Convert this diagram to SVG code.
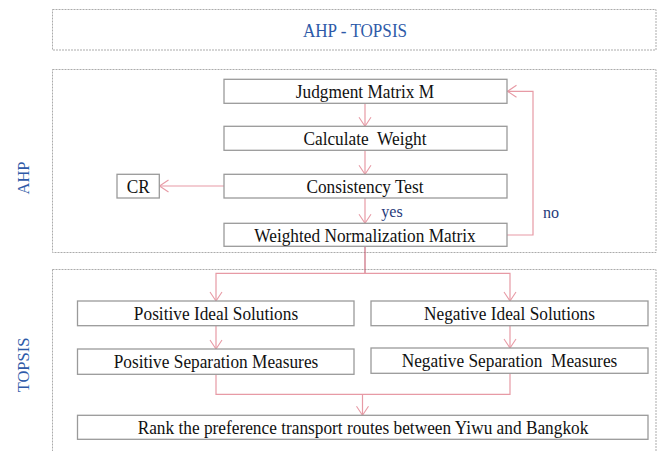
<svg xmlns="http://www.w3.org/2000/svg" width="661" height="451" viewBox="0 0 661 451">
<style>
.frame{fill:none;stroke:#ababab;stroke-width:1;stroke-dasharray:2 1}
.box{fill:#fff;stroke:#9a9a9a;stroke-width:1.3}
.t{font-family:"Liberation Serif","Times New Roman",serif;font-size:18.6px;fill:#111;text-anchor:middle}
.lab{font-family:"Liberation Serif","Times New Roman",serif;font-size:16.5px;fill:#2E5AA8;text-anchor:middle}
.ttl{font-family:"Liberation Serif","Times New Roman",serif;font-size:19px;fill:#2E5AA8;text-anchor:middle}
.yn{font-family:"Liberation Serif","Times New Roman",serif;font-size:17.5px;fill:#1F3A7A;text-anchor:middle}
.c{fill:none;stroke:#E79AA5;stroke-width:1.2}
.trunk{fill:none;stroke:#C96A7C;stroke-width:1.2}
</style>
<defs>
<marker id="arr" viewBox="-11 -7 13 14" refX="0" refY="0" markerWidth="13" markerHeight="14" orient="auto" markerUnits="userSpaceOnUse">
<path d="M-9,-6 L0,0 L-9,6" fill="none" stroke="#E79AA5" stroke-width="1.1"/>
</marker>
</defs>
<g id="frames">
<rect id="title-frame" class="frame" x="52.5" y="9.5" width="603.5" height="40.5"/>
<rect id="ahp-frame" class="frame" x="52.5" y="69.5" width="603.5" height="183"/>
<rect id="topsis-frame" class="frame" x="52.5" y="269.5" width="603.5" height="200"/>
</g>
<g id="title"><text class="ttl" transform="translate(355,37) scale(0.9,1)">AHP - TOPSIS</text></g>
<g id="ahp-label"><text class="lab" transform="translate(29,178) rotate(-90)">AHP</text></g>
<g id="topsis-label"><text class="lab" transform="translate(29,365) rotate(-90)">TOPSIS</text></g>
<g id="connectors">
<path class="c" d="M365,103.3 V126.3" marker-end="url(#arr)"/>
<path class="c" d="M365,150.3 V174.3" marker-end="url(#arr)"/>
<path class="c" d="M365,198 V223.3" marker-end="url(#arr)"/>
<path class="c" d="M224,186 H159.5" marker-end="url(#arr)"/>
<path class="c" d="M507,235 H533 V91.3 H507.5" marker-end="url(#arr)"/>
<path class="trunk" d="M365,246.3 V273.3"/>
<path class="c" d="M365,273.3 H216 V301" marker-end="url(#arr)"/>
<path class="c" d="M365,273.3 H510 V301" marker-end="url(#arr)"/>
<path class="c" d="M216,325.7 V349" marker-end="url(#arr)"/>
<path class="c" d="M510,325.7 V348" marker-end="url(#arr)"/>
<path class="c" d="M216,374.3 V394.3 H510 V373.3"/>
<path class="c" d="M362.5,394.3 V415.3" marker-end="url(#arr)"/>
<text class="yn" transform="translate(392,216.5) scale(0.92,1)">yes</text>
<text class="yn" transform="translate(551,217.5) scale(0.92,1)">no</text>
</g>
<g id="judgment"><rect class="box" x="224" y="79.3" width="283" height="24"/><text class="t" transform="translate(365,97.8) scale(0.93,1)">Judgment Matrix M</text></g>
<g id="weight"><rect class="box" x="224" y="126.3" width="283" height="24"/><text class="t" transform="translate(365,144.8) scale(0.93,1)" xml:space="preserve">Calculate  Weight</text></g>
<g id="consistency"><rect class="box" x="224" y="174.3" width="283" height="23.7"/><text class="t" transform="translate(365,192.5) scale(0.93,1)">Consistency Test</text></g>
<g id="cr"><rect class="box" x="117" y="174.3" width="42.3" height="23.7"/><text class="t" transform="translate(138.2,192.5) scale(0.93,1)">CR</text></g>
<g id="weighted"><rect class="box" x="224" y="223.3" width="283" height="23"/><text class="t" transform="translate(365,241.5) scale(0.93,1)">Weighted Normalization Matrix</text></g>
<g id="pos-ideal"><rect class="box" x="77.5" y="301" width="276.5" height="24.7"/><text class="t" transform="translate(216,319.8) scale(0.93,1)">Positive Ideal Solutions</text></g>
<g id="neg-ideal"><rect class="box" x="371" y="301" width="277" height="24.7"/><text class="t" transform="translate(509.5,319.8) scale(0.93,1)">Negative Ideal Solutions</text></g>
<g id="pos-sep"><rect class="box" x="77.5" y="349" width="276.5" height="25.3"/><text class="t" transform="translate(216,368) scale(0.93,1)">Positive Separation Measures</text></g>
<g id="neg-sep"><rect class="box" x="371" y="348" width="277" height="25.3"/><text class="t" transform="translate(509.5,367) scale(0.93,1)" xml:space="preserve">Negative Separation  Measures</text></g>
<g id="rank"><rect class="box" x="77.5" y="415.3" width="570.5" height="24"/><text class="t" transform="translate(363,433.8) scale(0.93,1)">Rank the preference transport routes between Yiwu and Bangkok</text></g>
</svg>
